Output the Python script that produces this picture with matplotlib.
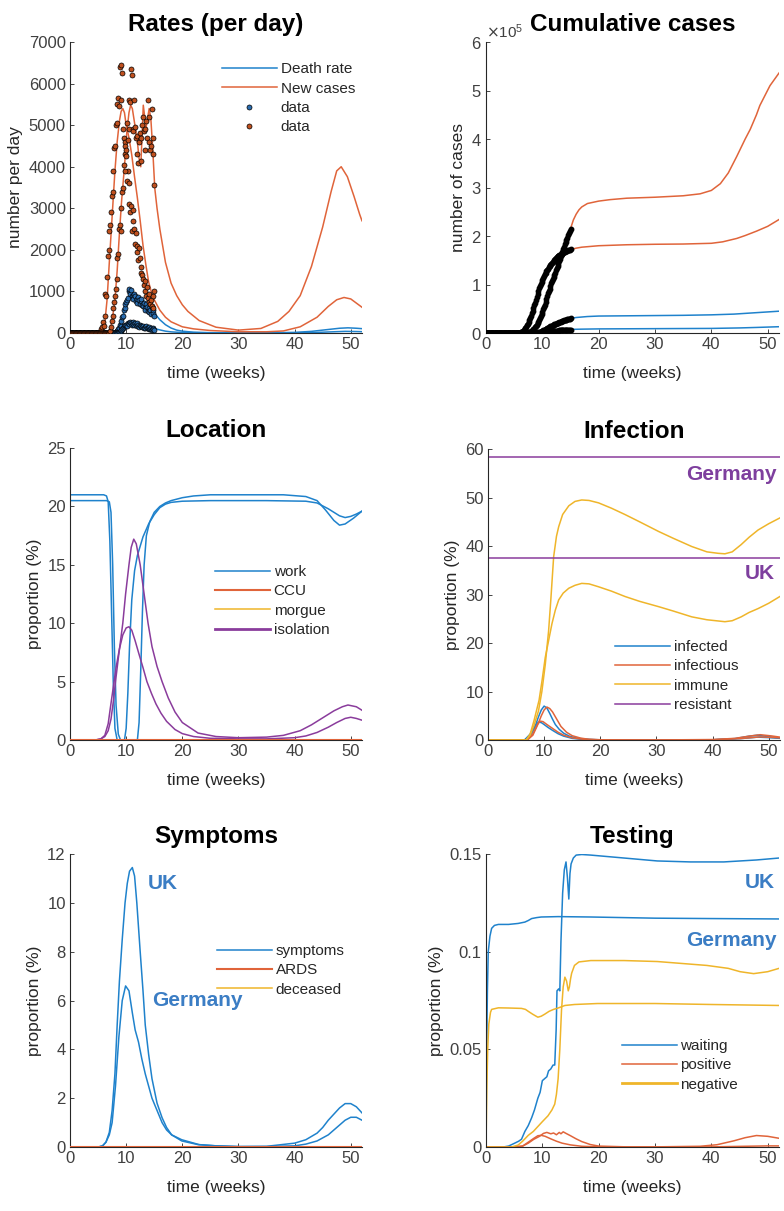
import numpy as np
import matplotlib
matplotlib.use('Agg')
import matplotlib.pyplot as plt
from matplotlib.ticker import ScalarFormatter

plt.rcParams['font.family'] = ['Liberation Sans Narrow', 'Liberation Sans', 'DejaVu Sans']

BLUE = '#1f82cc'
ORANGE = '#e0643a'
YELLOW = '#efb52a'
PURPLE = '#8a3c9c'
TXTBLUE = '#3b7dc4'
LW = 1.1

# ---------------- Rates (per day) ----------------
# daily data, one value per day from day 0
cases_a_data = [0]*38 + [30, 90, 150, 260, 180, 420, 950, 900, 1350, 1850, 2450,
                         2000, 2600, 2900, 3300, 3400, 3900, 4450, 4500, 5000, 5500, 5050, 5650,
                         5450, 6400, 6450, 5600, 6250, 4900, 4700, 4300, 4600, 4250, 3650, 3900,
                         3600, 3100, 2900, 3050, 2450, 2950, 2700, 2500, 2150, 2400, 2100, 1950,
                         1750, 2050, 1800, 1450, 1600, 1400, 1300, 1150, 1250, 1000, 900,
                         1100, 850, 750, 950, 700, 800, 650, 900, 600, 1000]
cases_b_data = [0]*49 + [10, 60, 150, 300, 420, 600, 750, 900, 1050, 1300,
                         1800, 1900, 2500, 2600, 2450, 3000, 3400, 3500, 4050, 3900,
                         4500, 4400, 5050, 4650, 4900, 5600, 5550, 6350, 6200, 4900,
                         4850, 5600, 4950, 4700, 4750, 4300, 4100, 4600, 4800, 4150,
                         4700, 5000, 5200, 4850, 4900, 4400, 5100, 4700, 5600, 4600,
                         5200, 4400, 4500, 5400, 4700, 4300, 3550]
deaths_uk_data = [0]*56 + [10, 20, 40, 60, 90, 130, 200, 180, 280, 380,
                           420, 560, 600, 700, 750, 800, 850, 1000, 1050, 950,
                           1030, 880, 900, 820, 950, 880, 780, 830, 720, 870,
                           800, 700, 760, 810, 680, 650, 720, 600, 560, 700,
                           620, 530, 600, 500, 560, 450, 630, 480, 560, 420]
deaths_de_data = [0]*60 + [10, 20, 30, 50, 70, 90, 110, 140, 160, 190,
                           200, 180, 230, 250, 210, 270, 240, 200, 260, 220,
                           190, 240, 200, 170, 230, 190, 150, 200, 160, 180,
                           140, 170, 130, 150, 120, 160, 110, 130, 100, 140,
                           90, 110, 80, 120, 90, 70]

# model curves (weeks, per day)
cases_a_t = [0, 5.3, 5.8, 6.2, 6.6, 7.0, 7.5, 8.0, 8.4, 8.8, 9.1, 9.4, 9.7, 10.0, 10.5, 11.0, 11.5,
             12.0, 12.5, 13.0, 13.5, 14.0, 14.5, 15.0, 16.0, 17.0, 18.0, 20.0, 22.0, 25.0, 30.0,
             35.0, 38.0, 41.0, 44.0, 46.0, 47.5, 48.8, 50.0, 51.0, 52.0]
cases_a_v = [0, 0, 60, 250, 800, 1700, 2800, 3900, 4600, 5100, 5330, 5400, 5300, 5000, 4700, 4280,
             3750, 3250, 2700, 2110, 1650, 1230, 980, 800, 550, 380, 270, 150, 100, 60, 30,
             30, 50, 150, 380, 640, 800, 855, 820, 720, 620]
cases_b_t = [0, 6.8, 7.1, 7.5, 8.0, 8.4, 8.8, 9.2, 9.7, 10.1, 10.5, 10.8, 11.1, 11.5, 12.0, 12.3,
             12.6, 12.85, 13.05, 13.3, 13.5, 13.8, 14.1, 14.4, 14.7, 15.1, 15.5, 16.0, 17.0, 18.0,
             19.0, 20.0, 21.0, 23.0, 26.0, 30.0, 34.0, 37.0, 39.0, 41.0, 43.0, 45.0, 46.5, 47.5,
             48.3, 49.4, 50.6, 51.6, 52.0]
cases_b_v = [0, 0, 60, 300, 800, 1500, 2400, 3200, 4000, 4800, 5300, 5480, 5400, 5050, 4600, 4200,
             4000, 4800, 5480, 5200, 4900, 5150, 5400, 5150, 4500, 3480, 3000, 2500, 1700, 1200,
             900, 680, 520, 300, 140, 70, 110, 280, 520, 900, 1600, 2550, 3400, 3900,
             4000, 3760, 3280, 2850, 2700]
deaths_uk_t = [0, 7.5, 8.0, 8.5, 9.0, 9.5, 10.0, 10.5, 11.0, 11.5, 12.0, 12.5, 13.0, 13.5, 14.0,
               14.5, 15.0, 15.5, 16.0, 17.0, 18.0, 19.0, 20.0, 22.0, 25.0, 30.0, 35.0, 40.0,
               43.0, 46.0, 48.0, 49.5, 51.0, 52.0]
deaths_uk_v = [0, 0, 30, 100, 250, 450, 700, 870, 920, 900, 870, 820, 780, 720, 650,
               560, 480, 400, 320, 200, 120, 70, 45, 20, 8, 4, 5, 15,
               40, 85, 115, 125, 115, 105]
deaths_de_t = [0, 8.0, 8.5, 9.0, 9.5, 10.0, 10.5, 11.0, 11.5, 12.0, 13.0, 14.0, 15.0, 16.0, 17.0,
               18.0, 20.0, 25.0, 30.0, 40.0, 44.0, 47.0, 49.0, 51.0, 52.0]
deaths_de_v = [0, 0, 20, 60, 110, 160, 200, 225, 230, 220, 190, 150, 110, 75, 45,
               28, 12, 3, 1, 5, 15, 30, 40, 36, 32]

# ---------------- Cumulative cases ----------------
cum_b_t = [15, 15.5, 16, 16.5, 17, 18, 20, 22, 25, 30, 35, 38, 40, 41.6, 43, 44.5, 46, 46.9,
           48, 48.6, 50.4, 52]
cum_b_v = [2.15e5, 2.33e5, 2.45e5, 2.54e5, 2.6e5, 2.67e5, 2.72e5, 2.75e5, 2.78e5, 2.8e5, 2.83e5,
           2.87e5, 2.94e5, 3.08e5, 3.3e5, 3.64e5, 4.0e5, 4.2e5, 4.5e5, 4.69e5, 5.1e5, 5.36e5]
cum_a_t = [15, 16, 17, 18, 20, 25, 30, 35, 40, 42, 44.5, 46, 48, 50, 52]
cum_a_v = [1.72e5, 1.75e5, 1.77e5, 1.78e5, 1.80e5, 1.82e5, 1.83e5, 1.835e5, 1.85e5, 1.88e5,
           1.95e5, 2.01e5, 2.1e5, 2.2e5, 2.34e5]
cum_duk_t = [15, 16, 18, 20, 25, 30, 35, 40, 44, 48, 52]
cum_duk_v = [0.30e5, 0.32e5, 0.34e5, 0.35e5, 0.355e5, 0.36e5, 0.365e5, 0.375e5, 0.39e5, 0.42e5, 0.45e5]
cum_dde_t = [15, 17, 20, 30, 40, 45, 48, 52]
cum_dde_v = [0.075e5, 0.08e5, 0.085e5, 0.09e5, 0.095e5, 0.105e5, 0.115e5, 0.13e5]

# ---------------- Location ----------------
work1_t = [0, 6.0, 6.5, 6.8, 7.1, 7.4, 7.7, 8.0, 8.4, 12.0, 12.3, 12.6, 12.9, 13.2, 13.6, 14.2,
           15.0, 16.0, 17.0, 18.0, 20.0, 22.0, 25.0, 30.0, 38.0, 42.0, 44.0, 45.5, 47.0, 48.0,
           49.0, 50.5, 52.0]
work1_v = [21.0, 21.0, 20.9, 20.4, 17.0, 11.0, 5.0, 1.0, 0, 0, 1.5, 6.0, 11.0, 15.0, 17.5, 18.7,
           19.5, 20.0, 20.3, 20.5, 20.75, 20.9, 21.0, 21.0, 21.0, 20.85, 20.5, 19.7, 18.8, 18.4,
           18.5, 19.0, 19.6]
work2_t = [0, 6.5, 7.0, 7.3, 7.6, 7.9, 8.2, 8.6, 9.0, 9.7, 10.0, 10.3, 10.6, 11.0, 11.5, 12.0,
           13.0, 14.0, 15.0, 16.0, 17.0, 18.0, 20.0, 25.0, 35.0, 42.0, 44.0, 46.0, 48.0, 49.0,
           50.0, 51.0, 52.0]
work2_v = [20.5, 20.5, 20.4, 19.5, 15.0, 8.0, 3.0, 0.5, 0, 0, 1.0, 4.0, 8.0, 12.0, 14.5, 15.8,
           17.4, 18.5, 19.3, 19.9, 20.2, 20.35, 20.45, 20.5, 20.5, 20.45, 20.3, 19.8, 19.2, 19.05,
           19.15, 19.35, 19.6]
iso1_t = [0, 4.5, 5.5, 6.2, 6.8, 7.3, 7.8, 8.1, 8.6, 9.0, 9.4, 9.9, 10.5, 10.9, 11.35, 11.8, 12.5,
          13.2, 13.9, 14.6, 15.5, 16.4, 17.5, 18.7, 20.0, 22.8, 26.0, 30.0, 35.0, 38.0, 41.0,
          43.0, 45.0, 47.0, 48.5, 49.5, 51.0, 52.0]
iso1_v = [0, 0, 0.1, 0.3, 0.8, 1.8, 3.6, 5.0, 7.0, 8.5, 10.0, 12.5, 15.0, 16.5, 17.2, 16.8, 15.0,
          12.5, 10.0, 8.0, 6.3, 5.0, 3.6, 2.4, 1.5, 0.6, 0.3, 0.2, 0.25, 0.4, 0.8,
          1.3, 1.9, 2.5, 2.85, 3.0, 2.85, 2.55]
iso2_t = [0, 4.5, 5.5, 6.2, 6.8, 7.2, 7.7, 8.2, 8.8, 9.4, 10.0, 10.5, 11.0, 11.6, 12.2, 13.0, 13.7,
          14.5, 15.3, 16.2, 17.2, 18.7, 20.0, 22.0, 25.0, 30.0, 35.0, 40.0, 42.0, 44.0, 46.0,
          47.5, 49.0, 50.0, 51.0, 52.0]
iso2_v = [0, 0, 0.1, 0.4, 1.4, 2.8, 4.5, 6.2, 7.8, 9.0, 9.6, 9.7, 9.4, 8.5, 7.5, 6.2, 5.0,
          4.0, 3.1, 2.3, 1.6, 0.9, 0.55, 0.3, 0.15, 0.1, 0.1, 0.2, 0.35, 0.65, 1.1,
          1.5, 1.85, 1.95, 1.85, 1.7]
flat_t = [0, 52]
flat_v = [0, 0]

# ---------------- Infection ----------------
resistant_levels = [58.4, 37.6]
imm1_t = [0, 6.8, 7.5, 8.2, 9.0, 9.6, 10.2, 10.5, 10.8, 11.2, 11.7, 12.2, 12.6, 13.3, 14.4, 15.5,
          16.7, 18.0, 19.7, 22.0, 24.4, 27.0, 30.4, 33.0, 36.3, 39.0, 41.0, 42.2, 43.5, 45.1,
          46.5, 48.1, 50.0, 52.0]
imm1_v = [0, 0, 1.0, 3.0, 6.0, 10.0, 15.5, 19.0, 22.5, 29.0, 37.8, 42.0, 44.0, 46.5, 48.3, 49.2,
          49.5, 49.4, 48.9, 47.8, 46.5, 45.0, 43.0, 41.6, 39.9, 38.8, 38.5, 38.4, 38.8, 40.3,
          41.8, 43.3, 44.6, 45.8]
imm2_t = [0, 6.8, 7.5, 8.2, 9.1, 9.6, 10.2, 10.8, 11.4, 12.0, 12.6, 13.4, 14.4, 15.5, 16.7, 18.0,
          19.7, 22.0, 24.4, 27.0, 30.4, 33.0, 36.3, 39.0, 42.2, 43.5, 45.1, 46.5, 48.1, 50.0, 52.0]
imm2_v = [0, 0, 1.2, 4.0, 8.2, 12.0, 17.0, 20.5, 24.0, 26.8, 28.9, 30.3, 31.3, 31.9, 32.3, 32.2,
          31.6, 30.7, 29.6, 28.6, 27.5, 26.6, 25.4, 24.8, 24.4, 24.6, 25.4, 26.3, 27.1, 28.2, 29.6]
inf1_t = [0, 6.5, 7.5, 8.3, 9.0, 9.5, 10.0, 10.5, 11.0, 11.5, 12.0, 12.7, 13.5, 14.5, 16.0, 18.0,
          20.0, 25.0, 30.0, 40.0, 44.0, 46.5, 48.0, 50.0, 52.0]
inf1_v = [0, 0, 0.8, 2.5, 4.8, 6.2, 7.0, 6.6, 5.5, 4.3, 3.2, 2.2, 1.4, 0.8, 0.35, 0.12,
          0.05, 0.01, 0.01, 0.05, 0.3, 0.8, 1.0, 0.7, 0.4]
inf2_t = [0, 6.5, 7.5, 8.3, 9.0, 9.5, 10.0, 10.7, 11.5, 12.5, 13.5, 15.0, 17.0, 20.0, 30.0, 40.0,
          45.0, 48.0, 50.0, 52.0]
inf2_v = [0, 0, 1.2, 2.8, 3.7, 3.6, 3.2, 2.6, 2.0, 1.3, 0.8, 0.35, 0.12, 0.03, 0.01, 0.05,
          0.3, 0.6, 0.5, 0.35]
ifs1_t = [0, 7.0, 8.0, 8.8, 9.5, 10.0, 10.5, 11.0, 11.5, 12.0, 12.5, 13.0, 14.0, 15.0, 16.5, 18.0,
          20.0, 25.0, 30.0, 40.0, 44.0, 46.5, 48.5, 50.5, 52.0]
ifs1_v = [0, 0, 1.0, 3.0, 5.0, 6.2, 6.8, 6.5, 5.8, 4.8, 3.8, 2.8, 1.6, 0.9, 0.4, 0.15,
          0.06, 0.02, 0.02, 0.1, 0.35, 0.8, 1.1, 0.85, 0.6]
ifs2_t = [0, 7.0, 8.0, 8.8, 9.3, 9.8, 10.5, 11.5, 12.5, 13.5, 15.0, 17.0, 20.0, 30.0, 40.0, 45.0,
          48.5, 50.5, 52.0]
ifs2_v = [0, 0, 1.3, 3.2, 3.9, 3.8, 3.2, 2.4, 1.6, 1.0, 0.45, 0.15, 0.04, 0.01, 0.05, 0.3,
          0.65, 0.55, 0.45]

# ---------------- Symptoms ----------------
symp_uk_t = [0, 5.0, 5.8, 6.4, 7.0, 7.5, 8.0, 8.4, 8.8, 9.3, 9.8, 10.2, 10.6, 11.1, 11.5, 11.9,
             12.2, 12.5, 13.0, 13.4, 14.0, 14.6, 15.5, 16.4, 17.2, 18.1, 19.9, 22.8, 26.0, 30.0,
             35.0, 40.0, 42.0, 44.0, 45.0, 46.0, 47.0, 48.0, 49.0, 50.0, 51.0, 52.0]
symp_uk_v = [0, 0, 0.05, 0.2, 0.6, 1.5, 3.0, 5.0, 6.8, 8.5, 10.0, 10.8, 11.3, 11.45, 11.1, 10.0,
             9.0, 8.0, 6.4, 5.0, 3.8, 2.8, 1.8, 1.2, 0.8, 0.5, 0.25, 0.1, 0.05, 0.02,
             0.03, 0.16, 0.3, 0.57, 0.8, 1.1, 1.35, 1.6, 1.78, 1.78, 1.65, 1.4]
symp_de_t = [0, 5.0, 5.8, 6.4, 7.0, 7.5, 8.1, 8.7, 9.3, 9.9, 10.5, 11.1, 11.6, 12.2, 12.8, 13.4,
             14.0, 14.6, 15.5, 16.4, 17.2, 18.1, 19.9, 23.0, 26.0, 30.0, 35.0, 40.0, 42.0, 44.0,
             46.0, 47.0, 48.0, 49.0, 50.0, 51.0, 52.0]
symp_de_v = [0, 0, 0.05, 0.2, 0.5, 1.0, 2.5, 4.5, 6.0, 6.6, 6.4, 5.5, 4.8, 4.3, 3.6, 3.0,
             2.5, 2.0, 1.5, 1.0, 0.7, 0.5, 0.3, 0.1, 0.05, 0.02, 0.02, 0.05, 0.12, 0.25,
             0.5, 0.7, 0.9, 1.1, 1.22, 1.22, 1.1]

# ---------------- Testing ----------------
wait_uk_t = [0, 3.0, 4.0, 5.1, 5.8, 6.3, 6.9, 7.5, 8.1, 8.6, 9.2, 9.6, 10.0, 10.4, 10.8, 11.1,
             11.5, 11.9, 12.2, 12.45, 12.6, 12.9, 13.1, 13.3, 13.6, 13.9, 14.2, 14.45, 14.7, 14.9,
             15.1, 15.5, 16.0, 17.0, 18.6, 24.5, 30.4, 36.3, 42.2, 48.0, 52.0]
wait_uk_v = [0, 0, 0.0005, 0.002, 0.003, 0.004, 0.008, 0.011, 0.015, 0.019, 0.025, 0.028, 0.034,
             0.035, 0.036, 0.039, 0.040, 0.042, 0.042, 0.06, 0.08, 0.081, 0.08, 0.105, 0.13, 0.142,
             0.146, 0.138, 0.127, 0.14, 0.145, 0.148, 0.1495, 0.1498, 0.1495, 0.148, 0.1465,
             0.146, 0.146, 0.147, 0.148]
wait_de_t = [0, 0.1, 0.25, 0.4, 0.7, 1.0, 1.5, 2.2, 4.0, 5.7, 6.9, 7.5, 8.1, 9.0, 9.8, 12.8,
             18.6, 30.0, 40.0, 52.0]
wait_de_v = [0, 0.045, 0.08, 0.1, 0.108, 0.112, 0.1135, 0.114, 0.114, 0.1145, 0.1152, 0.116,
             0.117, 0.1175, 0.1178, 0.118, 0.1178, 0.1172, 0.117, 0.1168]
neg_de_t = [0, 0.15, 0.3, 0.5, 0.8, 1.0, 2.2, 4.0, 6.3, 7.0, 7.5, 8.3, 9.2, 9.8, 10.4, 11.2, 12.0,
            12.8, 14.0, 15.7, 19.8, 30.0, 40.0, 52.0]
neg_de_v = [0, 0.03, 0.05, 0.063, 0.069, 0.0705, 0.0713, 0.0712, 0.071, 0.0705, 0.0695, 0.068,
            0.0665, 0.067, 0.068, 0.0695, 0.0705, 0.0712, 0.0725, 0.073, 0.0735, 0.0735, 0.073,
            0.0725]
neg_uk_t = [0, 4.5, 5.7, 6.5, 7.5, 8.4, 9.2, 10.0, 11.0, 11.7, 12.2, 12.5, 12.8, 13.1, 13.4, 13.7,
            14.0, 14.3, 14.6, 14.8, 15.0, 15.2, 15.7, 16.5, 18.6, 24.5, 30.4, 39.2, 43.0, 45.1,
            47.5, 50.0, 52.0]
neg_uk_v = [0, 0, 0.001, 0.003, 0.006, 0.008, 0.0105, 0.013, 0.016, 0.019, 0.022, 0.027, 0.035,
            0.05, 0.07, 0.082, 0.087, 0.085, 0.08, 0.082, 0.086, 0.089, 0.093, 0.0948, 0.0955,
            0.0955, 0.095, 0.093, 0.0915, 0.0898, 0.0888, 0.0898, 0.0915]
pos_uk_t = [0, 5.0, 6.5, 7.5, 8.5, 9.5, 10.2, 10.8, 11.5, 12.0, 12.5, 13.0, 13.3, 13.7, 14.2, 15.0,
            16.0, 17.0, 18.5, 20.0, 25.0, 30.0, 38.0, 41.0, 44.0, 46.0, 48.0, 50.0, 52.0]
pos_uk_v = [0, 0, 0.0005, 0.002, 0.004, 0.0055, 0.007, 0.0075, 0.0068, 0.0072, 0.0063, 0.0075,
            0.0068, 0.0078, 0.007, 0.0058, 0.0042, 0.0028, 0.0013, 0.0005, 0.0001, 0.0001,
            0.0004, 0.0012, 0.0032, 0.0048, 0.0059, 0.0055, 0.0045]
pos_de_t = [0, 5.0, 6.5, 7.5, 8.5, 9.2, 9.8, 10.5, 11.5, 12.5, 13.5, 15.0, 17.0, 20.0, 30.0, 40.0,
            46.0, 50.0, 52.0]
pos_de_v = [0, 0, 0.0005, 0.0025, 0.0045, 0.0058, 0.006, 0.0055, 0.0042, 0.003, 0.002, 0.0011,
            0.0004, 0.0001, 0.0, 0.0001, 0.0004, 0.0006, 0.0006]


def weeks_of(series):
    return np.arange(len(series)) / 7.0


def style(ax, title, ylabel, ylim, yticks):
    ax.set_xlim(0, 52)
    ax.set_xticks([0, 10, 20, 30, 40, 50])
    ax.set_ylim(*ylim)
    ax.set_yticks(yticks)
    ax.spines[['top', 'right']].set_visible(False)
    for s in ('left', 'bottom'):
        ax.spines[s].set_color('#262626')
        ax.spines[s].set_linewidth(0.8)
    ax.tick_params(direction='in', length=3, width=0.6, color='#262626',
                   labelcolor='#404040', labelsize=12, pad=3)
    ax.set_xlabel('time (weeks)', fontsize=12.5, color='#262626', labelpad=10)
    ax.set_ylabel(ylabel, fontsize=12.5, color='#262626')
    ax.set_title(title, fontsize=17.5, fontweight='bold', family='Liberation Sans', pad=8)


def legend(ax, x, y, lw_idx=None):
    leg = ax.legend(loc='upper left', bbox_to_anchor=(x, y), frameon=False, fontsize=11,
                    handlelength=3.6, handletextpad=0.25, labelspacing=0.35,
                    borderpad=0, borderaxespad=0)
    for t in leg.get_texts():
        t.set_color('#262626')
    if lw_idx is not None:
        leg.get_lines()[lw_idx].set_linewidth(2)
    return leg


fig = plt.figure(figsize=(7.84, 12.11), dpi=100)
ax1 = fig.add_axes([0.0893, 0.7250, 0.3724, 0.2403])
ax2 = fig.add_axes([0.6199, 0.7250, 0.3737, 0.2403])
ax3 = fig.add_axes([0.0893, 0.3889, 0.3724, 0.2411])
ax4 = fig.add_axes([0.6224, 0.3889, 0.3724, 0.2403])
ax5 = fig.add_axes([0.0893, 0.0528, 0.3724, 0.2419])
ax6 = fig.add_axes([0.6199, 0.0528, 0.3737, 0.2419])

# Rates
l_death, = ax1.plot(deaths_uk_t, deaths_uk_v, color=BLUE, lw=LW)
ax1.plot(deaths_de_t, deaths_de_v, color=BLUE, lw=LW)
l_cases, = ax1.plot(cases_b_t, cases_b_v, color=ORANGE, lw=LW)
ax1.plot(cases_a_t, cases_a_v, color=ORANGE, lw=LW)
mk = dict(ls='none', marker='o', ms=3.6, mec='black', mew=0.5, zorder=3)
d_blue, = ax1.plot(weeks_of(deaths_uk_data), deaths_uk_data, mfc='#2a6db0', **mk)
ax1.plot(weeks_of(deaths_de_data), deaths_de_data, mfc='#2a6db0', **mk)
d_orange, = ax1.plot(weeks_of(cases_a_data), cases_a_data, mfc='#c0501e', **mk)
ax1.plot(weeks_of(cases_b_data), cases_b_data, mfc='#c0501e', **mk)
style(ax1, 'Rates (per day)', 'number per day', (0, 7000), range(0, 7001, 1000))
leg = ax1.legend([l_death, l_cases, d_blue, d_orange], ['Death rate', 'New cases', 'data', 'data'],
                 loc='upper left', bbox_to_anchor=(0.52, 0.93), frameon=False, fontsize=11,
                 handlelength=3.6, handletextpad=0.25, labelspacing=0.35, borderpad=0,
                 borderaxespad=0)
for t in leg.get_texts():
    t.set_color('#262626')

# Cumulative cases
for series in (cases_a_data, cases_b_data, deaths_uk_data, deaths_de_data):
    ax2.plot(weeks_of(series), np.cumsum(series), ls='none', marker='o', ms=3.2,
             color='black', zorder=3)
ax2.plot(cum_b_t, cum_b_v, color=ORANGE, lw=LW)
ax2.plot(cum_a_t, cum_a_v, color=ORANGE, lw=LW)
ax2.plot(cum_duk_t, cum_duk_v, color=BLUE, lw=LW)
ax2.plot(cum_dde_t, cum_dde_v, color=BLUE, lw=LW)
style(ax2, 'Cumulative cases', 'number of cases', (0, 6e5), np.arange(0, 6.01e5, 1e5))
fmt = ScalarFormatter(useMathText=True)
fmt.set_powerlimits((0, 0))
ax2.yaxis.set_major_formatter(fmt)
ax2.yaxis.get_offset_text().set_fontsize(11)
ax2.yaxis.get_offset_text().set_color('#404040')

# Location
ax3.plot(work1_t, work1_v, color=BLUE, lw=LW, label='work')
ax3.plot(work2_t, work2_v, color=BLUE, lw=LW)
ax3.plot(flat_t, flat_v, color=ORANGE, lw=1.5, label='CCU', zorder=3)
ax3.plot(flat_t, flat_v, color=YELLOW, lw=LW, label='morgue')
ax3.plot(iso1_t, iso1_v, color=PURPLE, lw=LW, label='isolation')
ax3.plot(iso2_t, iso2_v, color=PURPLE, lw=LW)
style(ax3, 'Location', 'proportion (%)', (0, 25), range(0, 26, 5))
legend(ax3, 0.496, 0.60, lw_idx=3)

# Infection
ax4.plot(inf1_t, inf1_v, color=BLUE, lw=LW, label='infected')
ax4.plot(inf2_t, inf2_v, color=BLUE, lw=LW)
ax4.plot(ifs1_t, ifs1_v, color=ORANGE, lw=LW, label='infectious')
ax4.plot(ifs2_t, ifs2_v, color=ORANGE, lw=LW)
ax4.plot(imm1_t, imm1_v, color=YELLOW, lw=LW, label='immune')
ax4.plot(imm2_t, imm2_v, color=YELLOW, lw=LW)
ax4.axhline(resistant_levels[0], color=PURPLE, lw=LW, label='resistant')
ax4.axhline(resistant_levels[1], color=PURPLE, lw=LW)
style(ax4, 'Infection', 'proportion (%)', (0, 60), range(0, 61, 10))
legend(ax4, 0.435, 0.344)
ax4.text(0.99, 0.911, 'Germany', transform=ax4.transAxes, ha='right', va='center',
         fontsize=15, fontweight='bold', family='Liberation Sans', color='#7e3f9e')
ax4.text(0.983, 0.574, 'UK', transform=ax4.transAxes, ha='right', va='center',
         fontsize=15, fontweight='bold', family='Liberation Sans', color='#7e3f9e')

# Symptoms
ax5.plot(symp_uk_t, symp_uk_v, color=BLUE, lw=LW, label='symptoms')
ax5.plot(symp_de_t, symp_de_v, color=BLUE, lw=LW)
ax5.plot(flat_t, flat_v, color=ORANGE, lw=1.5, label='ARDS', zorder=3)
ax5.plot(flat_t, flat_v, color=YELLOW, lw=LW, label='deceased')
style(ax5, 'Symptoms', 'proportion (%)', (0, 12), range(0, 13, 2))
legend(ax5, 0.503, 0.693)
ax5.text(0.267, 0.901, 'UK', transform=ax5.transAxes, ha='left', va='center',
         fontsize=15, fontweight='bold', family='Liberation Sans', color=TXTBLUE)
ax5.text(0.28, 0.502, 'Germany', transform=ax5.transAxes, ha='left', va='center',
         fontsize=15, fontweight='bold', family='Liberation Sans', color=TXTBLUE)

# Testing
ax6.plot(wait_uk_t, wait_uk_v, color=BLUE, lw=LW, label='waiting')
ax6.plot(wait_de_t, wait_de_v, color=BLUE, lw=LW)
ax6.plot(pos_uk_t, pos_uk_v, color=ORANGE, lw=LW, label='positive')
ax6.plot(pos_de_t, pos_de_v, color=ORANGE, lw=LW)
ax6.plot(neg_uk_t, neg_uk_v, color=YELLOW, lw=LW, label='negative')
ax6.plot(neg_de_t, neg_de_v, color=YELLOW, lw=LW)
style(ax6, 'Testing', 'proportion (%)', (0, 0.15), [0, 0.05, 0.1, 0.15])
ax6.set_yticklabels(['0', '0.05', '0.1', '0.15'])
legend(ax6, 0.463, 0.369, lw_idx=2)
ax6.text(0.985, 0.904, 'UK', transform=ax6.transAxes, ha='right', va='center',
         fontsize=15, fontweight='bold', family='Liberation Sans', color=TXTBLUE)
ax6.text(0.991, 0.706, 'Germany', transform=ax6.transAxes, ha='right', va='center',
         fontsize=15, fontweight='bold', family='Liberation Sans', color=TXTBLUE)

fig.savefig('out.png', dpi=100)
